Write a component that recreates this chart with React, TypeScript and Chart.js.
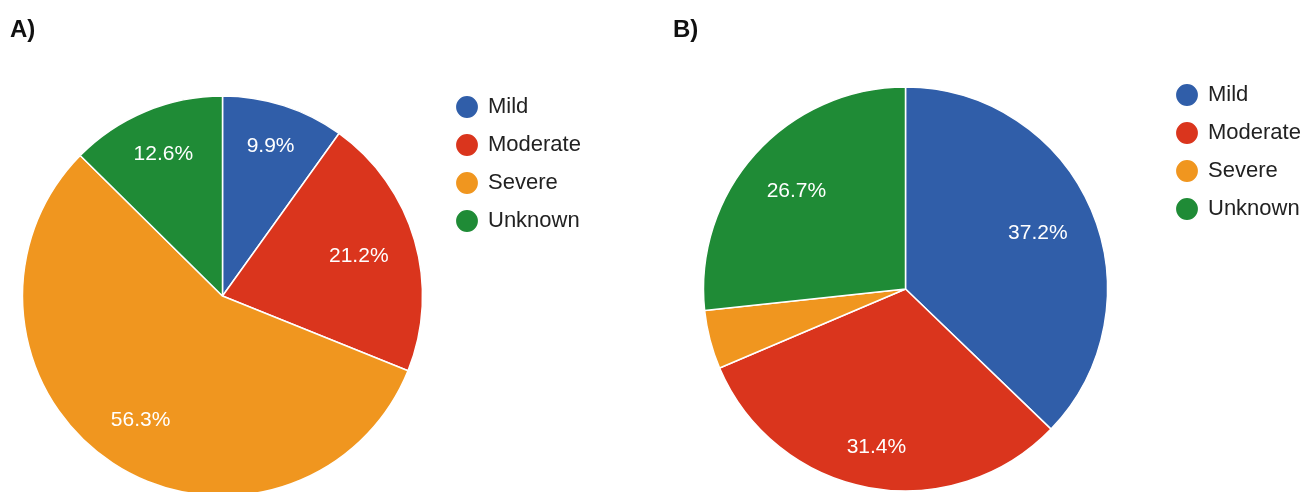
import React, { useEffect, useRef } from "react";
import { Chart, registerables } from "chart.js";

Chart.register(...registerables);

// ---- data ----
const categories = ["Mild", "Moderate", "Severe", "Unknown"];
const valuesA = [9.9, 21.2, 56.3, 12.6];
const valuesB = [37.2, 31.4, 4.7, 26.7];
const sliceColors = ["#305ea9", "#da351d", "#f0961f", "#1f8b36"];
const panelTitles = ["A)", "B)"];

const FONT = "'Liberation Sans', Arial, Helvetica, sans-serif";
const LABEL_SIZE = 21;
const LEGEND_SIZE = 22;
const LEGEND_PAD = 16;
const LEGEND_BOX = 20;

function legendWidth(): number {
  const c = document.createElement("canvas");
  const ctx = c.getContext("2d")!;
  ctx.font = `${LEGEND_SIZE}px ${FONT}`;
  let maxTw = 0;
  categories.forEach((t) => {
    maxTw = Math.max(maxTw, ctx.measureText(t).width);
  });
  // Chart.js vertical legend: padding + (boxWidth + fontSize/2 + textWidth) + 10
  return LEGEND_PAD + LEGEND_BOX + LEGEND_SIZE / 2 + maxTw + 10;
}

const sliceLabels = {
  id: "sliceLabels",
  afterDatasetsDraw(chart: any) {
    const ctx = chart.ctx as CanvasRenderingContext2D;
    const meta = chart.getDatasetMeta(0);
    const data = chart.data.datasets[0].data as number[];
    const total = data.reduce((a, b) => a + b, 0);
    ctx.save();
    ctx.font = `${LABEL_SIZE}px ${FONT}`;
    ctx.fillStyle = "#ffffff";
    ctx.textAlign = "center";
    ctx.textBaseline = "middle";
    meta.data.forEach((arc: any, i: number) => {
      const pct = (data[i] / total) * 100;
      if (pct < 5) return;
      const text = pct.toFixed(1) + "%";
      const { x, y, startAngle, endAngle, outerRadius } = arc.getProps(
        ["x", "y", "startAngle", "endAngle", "outerRadius"],
        true
      );
      const mid = (startAngle + endAngle) / 2;
      const w = ctx.measureText(text).width;
      const h = LABEL_SIZE * 0.85;
      const proj = (w / 2) * Math.abs(Math.cos(mid)) + (h / 2) * Math.abs(Math.sin(mid));
      const r = outerRadius * 0.865 - proj;
      ctx.fillText(text, x + r * Math.cos(mid), y + r * Math.sin(mid));
    });
    ctx.restore();
  },
};

type PanelProps = {
  values: number[];
  left: number;
  width: number;
  height: number;
  areaLeft: number;
  areaRight: number;
  top: number;
  radius: number;
};

function PiePanel({ values, left, width, height, areaLeft, areaRight, top, radius }: PanelProps) {
  const ref = useRef<HTMLCanvasElement>(null);
  useEffect(() => {
    if (!ref.current) return;
    const lw = legendWidth();
    const padRight = width - areaRight - lw;
    const chart = new Chart(ref.current, {
      type: "pie",
      data: {
        labels: categories,
        datasets: [
          {
            data: values,
            backgroundColor: sliceColors,
            borderColor: "#ffffff",
            borderWidth: 1.5,
            radius: radius,
          } as any,
        ],
      },
      options: {
        responsive: false,
        animation: false,
        events: [],
        layout: { padding: { left: areaLeft, top, right: padRight, bottom: 0 } },
        plugins: {
          legend: {
            position: "right",
            align: "start",
            labels: {
              usePointStyle: true,
              pointStyle: "circle",
              boxWidth: LEGEND_BOX,
              boxHeight: 16.5,
              padding: LEGEND_PAD,
              color: "#222222",
              font: { family: FONT, size: LEGEND_SIZE },
            },
          },
          tooltip: { enabled: false },
        },
      } as any,
      plugins: [sliceLabels],
    });
    return () => chart.destroy();
  }, []);
  return (
    <canvas
      ref={ref}
      width={width}
      height={height}
      style={{ position: "absolute", left, top: 0, width, height }}
    />
  );
}

export default function App() {
  return (
    <div
      style={{
        position: "fixed",
        left: 0,
        top: 0,
        width: 1305,
        height: 492,
        overflow: "hidden",
        background: "#ffffff",
      }}
    >
      <PiePanel
        values={valuesA}
        left={0}
        width={620}
        height={512}
        areaLeft={4}
        areaRight={441}
        top={80}
        radius={200}
      />
      <PiePanel
        values={valuesB}
        left={630}
        width={675}
        height={510}
        areaLeft={20}
        areaRight={531}
        top={68}
        radius={202}
      />
      <div
        style={{
          position: "absolute",
          left: 10,
          top: 17,
          font: `bold 24px ${FONT}`,
          lineHeight: "24px",
          color: "#111111",
        }}
      >
        {panelTitles[0]}
      </div>
      <div
        style={{
          position: "absolute",
          left: 673,
          top: 17,
          font: `bold 24px ${FONT}`,
          lineHeight: "24px",
          color: "#111111",
        }}
      >
        {panelTitles[1]}
      </div>
    </div>
  );
}
